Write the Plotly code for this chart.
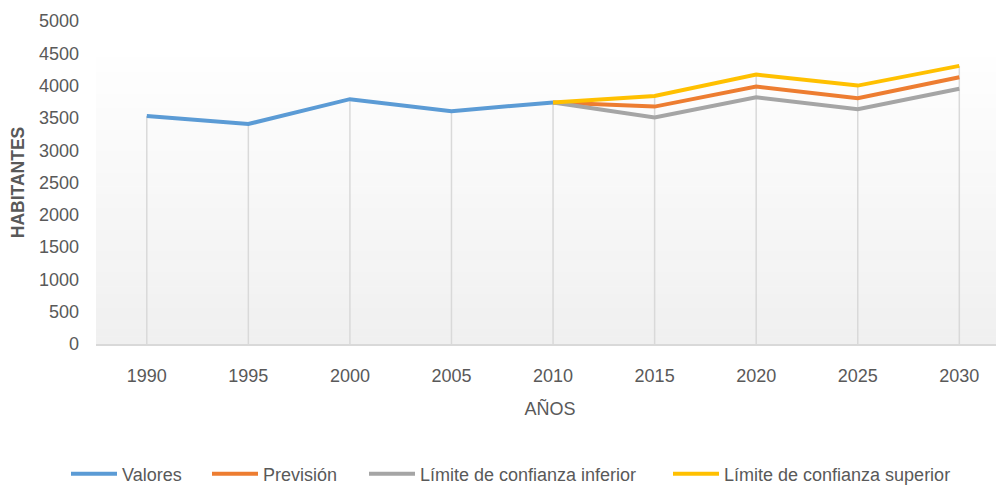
import plotly.graph_objects as go

years = ["1990", "1995", "2000", "2005", "2010", "2015", "2020", "2025", "2030"]
valores = [3530, 3405, 3790, 3605, 3740, None, None, None, None]
prevision = [None, None, None, None, 3740, 3675, 3985, 3805, 4130]
lim_inf = [None, None, None, None, 3740, 3505, 3820, 3635, 3950]
lim_sup = [None, None, None, None, 3740, 3840, 4170, 4000, 4305]
y_ticks = [0, 500, 1000, 1500, 2000, 2500, 3000, 3500, 4000, 4500, 5000]

FONT = "Liberation Sans, Arial, sans-serif"
GRAY = "#595959"
OFF = 8  # default page body margin
W, H = 1004 - OFF, 485 - OFF

fig = go.Figure()

# gradient plot-area background (white at top -> light gray at bottom)
n = 40
top = 0.885
for i in range(n):
    y0 = top * i / n
    y1 = top * (i + 1) / n
    t = i / (n - 1)  # 0 bottom -> 1 top
    c = int(round(240 + (254 - 240) * t))
    fig.add_shape(type="rect", xref="paper", yref="paper", x0=0, x1=1,
                  y0=y0, y1=y1 + 0.002, fillcolor=f"rgb({c},{c},{c})",
                  line_width=0, layer="below")

# drop lines from highest value to axis
dx, dy = [], []
for i, yr in enumerate(years):
    vals = [s[i] for s in (valores, prevision, lim_inf, lim_sup) if s[i] is not None]
    dx += [yr, yr, None]
    dy += [0, max(vals), None]
fig.add_trace(go.Scatter(x=dx, y=dy, mode="lines", line=dict(color="#d9d9d9", width=1.5),
                         showlegend=False, hoverinfo="skip"))

series = [
    ("Valores", valores, "#5B9BD5", "legend", 66),
    ("Previsión", prevision, "#ED7D31", "legend2", 207),
    ("Límite de confianza inferior", lim_inf, "#A5A5A5", "legend3", 364),
    ("Límite de confianza superior", lim_sup, "#FFC000", "legend4", 668),
]
legends = {}
for name, vals, col, lg, lx in series:
    fig.add_trace(go.Scatter(x=years, y=vals, name=name, mode="lines", legend=lg,
                             line=dict(color=col, width=4), connectgaps=False))
    legends[lg] = dict(orientation="h", xref="container", yref="container",
                       x=(lx - OFF) / W, xanchor="left", y=1 - (474 - OFF) / H,
                       yanchor="middle",
                       font=dict(size=18, color=GRAY, family=FONT), itemwidth=46,
                       bgcolor="rgba(0,0,0,0)", borderwidth=0)

fig.update_layout(
    width=W, height=H,
    margin=dict(l=96 - OFF, r=0, t=21 - OFF, b=141, autoexpand=False),
    paper_bgcolor="white", plot_bgcolor="white",
    font=dict(family=FONT, color=GRAY, size=18),
    showlegend=True,
    **legends,
)
fig.update_xaxes(type="category", categoryorder="array", categoryarray=years,
                 range=[-0.5, 8.44], showgrid=False, zeroline=False, automargin=False,
                 showline=True, linecolor="#d9d9d9", linewidth=2,
                 ticks="", ticklabelstandoff=14, tickfont=dict(size=18, color=GRAY),
                 title=dict(text="AÑOS", font=dict(size=18, color=GRAY), standoff=18))
fig.update_yaxes(range=[0, 5000], tickvals=y_ticks, showgrid=False, zeroline=False,
                 showline=False, ticks="", ticklabelstandoff=16, automargin=False,
                 tickfont=dict(size=18, color=GRAY),
                 title=dict(text="<b>HABITANTES</b>", font=dict(size=17.5, color=GRAY), standoff=10))

fig.write_html("out.html")
